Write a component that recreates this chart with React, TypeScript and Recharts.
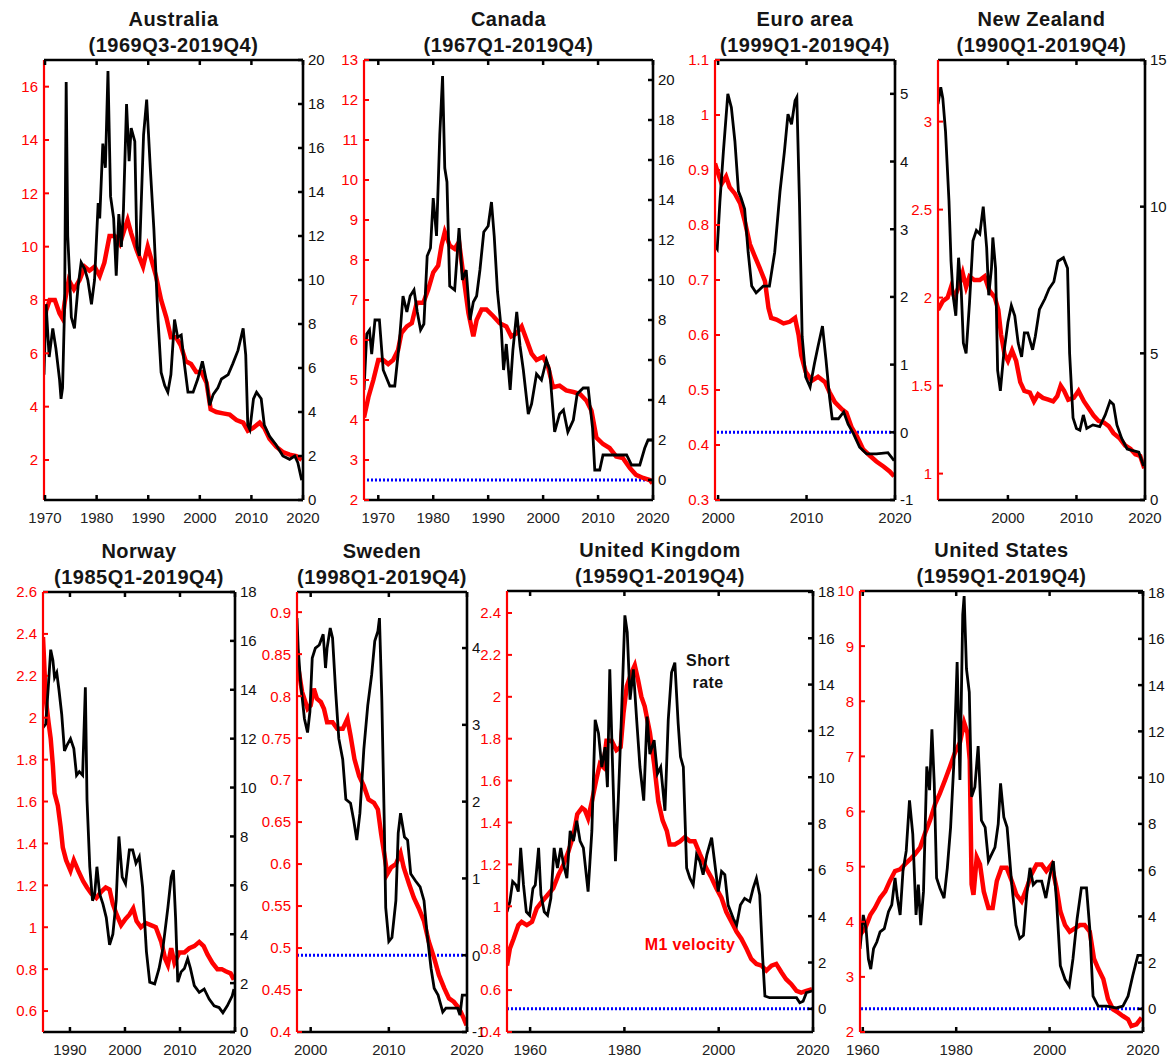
import React from 'react';
import { LineChart, Line, XAxis, YAxis, ReferenceLine } from 'recharts';

type Pt = [number, number];

// ---- Australia ----
const AUS_VEL: Pt[] = [
  [1969.8, 6.6], [1970.2, 7.6], [1970.9, 8.0], [1971.9, 8.0], [1972.8, 7.5], [1973.4, 7.3], [1973.8, 7.9],
  [1974.6, 8.75], [1975.6, 8.4], [1976.7, 8.75], [1977.7, 9.25], [1978.6, 9.1], [1979.6, 9.25], [1980.6, 8.9],
  [1981.5, 9.4], [1982.5, 10.4], [1983.5, 10.4], [1984.5, 10.1], [1985.4, 10.65], [1986.0, 11.0], [1986.7, 10.5],
  [1987.7, 9.9], [1988.3, 9.6], [1989.0, 9.25], [1989.9, 10.0], [1990.5, 9.6], [1991.5, 8.9], [1992.5, 8.0],
  [1993.5, 7.35], [1994.4, 6.6], [1995.4, 6.6], [1996.3, 6.3], [1997.3, 5.7], [1998.3, 5.6], [1999.3, 5.3],
  [2000.3, 5.3], [2001.3, 4.9], [2002.1, 3.9], [2003.2, 3.8], [2004.5, 3.75], [2005.8, 3.7], [2007.1, 3.5],
  [2008.4, 3.4], [2009.3, 3.1], [2010.3, 3.2], [2011.6, 3.4], [2012.5, 3.2], [2013.5, 2.8], [2014.8, 2.5],
  [2016.1, 2.3], [2017.4, 2.2], [2018.7, 2.15], [2019.75, 2.0],
];
const AUS_RATE: Pt[] = [
  [1969.8, 5.7], [1970.2, 8.9], [1970.8, 6.5], [1971.5, 7.8], [1972.1, 6.9], [1972.8, 5.5], [1973.1, 4.6],
  [1973.4, 5.1], [1973.8, 8.9], [1974.1, 19.0], [1974.4, 12.0], [1974.7, 10.5], [1975.1, 8.3], [1975.7, 7.8],
  [1976.4, 9.7], [1977.0, 10.8], [1977.7, 10.5], [1978.3, 10.0], [1979.0, 8.9], [1979.6, 10.0], [1980.3, 13.5],
  [1980.6, 12.8], [1981.2, 16.2], [1981.7, 15.1], [1982.2, 19.5], [1982.7, 13.8], [1983.3, 12.8], [1983.8, 10.2],
  [1984.3, 13.0], [1984.8, 11.5], [1985.2, 13.2], [1985.8, 18.0], [1986.3, 15.4], [1986.7, 16.9], [1987.4, 16.3],
  [1987.8, 11.5], [1988.3, 11.1], [1989.1, 16.6], [1989.7, 18.2], [1990.4, 15.1], [1991.1, 12.3], [1991.9, 8.2],
  [1992.5, 5.8], [1993.2, 5.2], [1993.8, 4.9], [1994.4, 5.7], [1995.1, 8.2], [1995.7, 7.4], [1996.4, 7.5],
  [1997.0, 6.2], [1997.7, 4.9], [1998.7, 4.9], [1999.6, 5.5], [2000.5, 6.3], [2001.3, 5.4], [2001.9, 4.3],
  [2002.6, 4.8], [2003.5, 5.1], [2004.2, 5.5], [2005.5, 5.7], [2006.4, 6.2], [2007.4, 6.8], [2008.4, 7.8],
  [2008.9, 6.6], [2009.3, 3.4], [2009.7, 3.2], [2010.4, 4.6], [2011.0, 4.9], [2011.9, 4.6], [2012.5, 3.4],
  [2013.5, 2.9], [2014.8, 2.5], [2016.1, 2.0], [2017.4, 1.85], [2018.4, 2.0], [2019.0, 1.7], [2019.75, 0.9],
];

// ---- Canada ----
const CAN_VEL: Pt[] = [
  [1967.4, 4.06], [1968.2, 4.57], [1969.1, 5.0], [1970.0, 5.5], [1970.9, 5.5], [1971.8, 5.4], [1972.7, 5.5],
  [1973.6, 5.75], [1974.2, 6.17], [1975.2, 6.34], [1976.1, 6.42], [1977.0, 6.93], [1978.2, 6.93], [1979.1, 7.27],
  [1980.0, 7.69], [1980.9, 7.86], [1981.5, 8.36], [1982.1, 8.7], [1983.0, 8.36], [1983.9, 8.28], [1984.7, 8.45],
  [1985.5, 7.6], [1986.4, 6.68], [1987.3, 6.09], [1987.9, 6.5], [1988.8, 6.76], [1989.7, 6.76], [1990.9, 6.6],
  [1992.1, 6.42], [1993.3, 6.34], [1994.2, 6.09], [1995.2, 6.17], [1996.1, 6.34], [1997.0, 6.0], [1997.9, 5.66],
  [1998.8, 5.5], [2000.0, 5.58], [2000.9, 5.33], [2001.8, 4.82], [2003.0, 4.86], [2004.2, 4.74], [2005.5, 4.7],
  [2006.7, 4.65], [2007.9, 4.48], [2008.8, 4.23], [2009.7, 3.56], [2010.9, 3.4], [2012.1, 3.3], [2013.3, 3.09],
  [2014.5, 3.05], [2015.8, 2.8], [2016.9, 2.63], [2018.2, 2.55], [2019.4, 2.5], [2019.9, 2.42],
];
const CAN_RATE: Pt[] = [
  [1967.4, 4.5], [1967.9, 7.3], [1968.4, 7.5], [1968.8, 6.3], [1969.4, 8.0], [1970.2, 8.0], [1970.9, 5.5],
  [1971.5, 5.1], [1972.1, 4.7], [1973.0, 4.7], [1973.8, 6.8], [1974.5, 9.2], [1975.2, 8.4], [1975.8, 9.2],
  [1976.5, 9.5], [1977.1, 8.4], [1977.7, 7.5], [1978.3, 7.8], [1978.9, 11.2], [1979.5, 11.6], [1980.0, 14.1],
  [1980.6, 12.2], [1981.2, 17.3], [1981.7, 20.2], [1982.1, 15.6], [1982.5, 14.9], [1983.0, 9.7], [1983.9, 9.5],
  [1984.7, 12.6], [1985.3, 10.0], [1986.0, 10.5], [1986.7, 8.0], [1987.3, 8.9], [1987.9, 9.2], [1988.5, 10.5],
  [1989.2, 12.4], [1990.0, 12.7], [1990.6, 13.9], [1991.1, 12.2], [1991.7, 9.4], [1992.4, 7.5], [1992.8, 5.5],
  [1993.3, 6.8], [1994.0, 4.5], [1994.5, 6.5], [1995.2, 8.4], [1995.8, 6.7], [1996.4, 5.5], [1997.3, 3.3],
  [1997.9, 3.8], [1998.8, 5.3], [1999.7, 5.0], [2000.6, 6.0], [2001.2, 5.5], [2002.1, 2.4], [2003.0, 3.3],
  [2003.7, 3.5], [2004.5, 2.4], [2005.5, 3.0], [2006.2, 4.3], [2007.3, 4.6], [2008.2, 4.6], [2009.0, 2.6],
  [2009.4, 0.5], [2010.3, 0.5], [2010.9, 1.25], [2012.1, 1.25], [2015.2, 1.25], [2016.1, 0.75], [2017.6, 0.75],
  [2018.5, 1.6], [2019.1, 2.0], [2019.9, 2.0],
];

// ---- Euro area ----
const EUR_VEL: Pt[] = [
  [1999.65, 0.912], [2000.0, 0.894], [2000.4, 0.875], [2000.9, 0.888], [2001.3, 0.869], [2001.9, 0.857],
  [2002.5, 0.839], [2003.0, 0.808], [2003.6, 0.765], [2004.2, 0.741], [2004.7, 0.722], [2005.3, 0.698],
  [2005.7, 0.649], [2006.0, 0.631], [2006.6, 0.628], [2007.4, 0.621], [2008.1, 0.624], [2008.7, 0.631],
  [2009.1, 0.6], [2009.4, 0.563], [2009.9, 0.533], [2010.6, 0.517], [2011.3, 0.524], [2012.1, 0.514],
  [2012.6, 0.496], [2013.2, 0.478], [2014.0, 0.465], [2014.5, 0.459], [2015.1, 0.432], [2015.7, 0.416],
  [2016.4, 0.392], [2017.2, 0.38], [2017.9, 0.37], [2018.7, 0.361], [2019.4, 0.352], [2019.9, 0.343],
];
const EUR_RATE: Pt[] = [
  [1999.65, 2.76], [1999.9, 2.71], [2000.2, 3.4], [2000.6, 4.15], [2001.1, 5.0], [2001.5, 4.8], [2001.9, 4.3],
  [2002.3, 3.56], [2002.6, 3.46], [2003.0, 3.3], [2003.4, 2.66], [2003.8, 2.16], [2004.3, 2.06], [2005.1, 2.16],
  [2005.8, 2.16], [2006.4, 2.66], [2007.0, 3.56], [2007.5, 4.15], [2007.9, 4.7], [2008.3, 4.55], [2008.7, 4.9],
  [2008.9, 4.95], [2009.2, 3.4], [2009.5, 1.42], [2009.9, 0.82], [2010.4, 0.67], [2010.9, 1.02], [2011.3, 1.27],
  [2011.8, 1.57], [2012.2, 1.07], [2012.6, 0.52], [2012.9, 0.2], [2013.6, 0.2], [2014.2, 0.3], [2014.7, 0.12],
  [2015.3, -0.02], [2016.0, -0.22], [2016.8, -0.32], [2017.9, -0.32], [2019.2, -0.3], [2019.9, -0.42],
];

// ---- New Zealand ----
const NZL_VEL: Pt[] = [
  [1989.8, 1.93], [1990.5, 1.98], [1991.2, 2.0], [1991.7, 2.06], [1992.2, 2.0], [1992.8, 2.06], [1993.4, 2.14],
  [1993.9, 2.06], [1994.4, 2.12], [1995.1, 2.1], [1995.9, 2.1], [1996.6, 2.12], [1997.3, 2.04], [1998.1, 2.0],
  [1998.6, 1.93], [1999.0, 1.79], [1999.5, 1.68], [2000.0, 1.64], [2000.6, 1.7], [2001.2, 1.64], [2001.8, 1.52],
  [2002.4, 1.47], [2003.2, 1.46], [2003.8, 1.41], [2004.4, 1.45], [2005.1, 1.43], [2005.9, 1.42], [2006.6, 1.41],
  [2007.2, 1.44], [2007.7, 1.5], [2008.2, 1.47], [2008.8, 1.42], [2009.6, 1.43], [2010.3, 1.47], [2011.1, 1.41],
  [2011.8, 1.37], [2012.5, 1.33], [2013.2, 1.3], [2014.0, 1.29], [2014.7, 1.27], [2015.4, 1.23], [2016.3, 1.2],
  [2017.1, 1.16], [2017.9, 1.14], [2018.6, 1.11], [2019.3, 1.1], [2019.9, 1.03],
];
const NZL_RATE: Pt[] = [
  [1989.8, 13.5], [1990.2, 14.07], [1990.5, 13.7], [1990.9, 12.56], [1991.4, 10.2], [1991.7, 8.14], [1992.0, 6.98],
  [1992.4, 6.28], [1992.8, 8.26], [1993.2, 7.1], [1993.5, 5.35], [1993.9, 5.0], [1994.4, 6.74], [1994.9, 8.84],
  [1995.4, 9.19], [1995.9, 9.07], [1996.4, 10.0], [1996.9, 8.6], [1997.2, 6.98], [1997.6, 7.9], [1997.8, 8.95],
  [1998.2, 7.9], [1998.5, 4.42], [1998.9, 3.72], [1999.4, 5.0], [2000.0, 6.05], [2000.5, 6.63], [2001.0, 6.28],
  [2001.5, 5.35], [2002.0, 4.88], [2002.4, 5.7], [2002.9, 5.7], [2003.6, 5.12], [2004.0, 5.58], [2004.6, 6.5],
  [2005.4, 6.86], [2006.0, 7.2], [2006.7, 7.44], [2007.3, 8.14], [2008.1, 8.26], [2008.7, 7.9], [2009.0, 5.0],
  [2009.5, 2.8], [2010.0, 2.44], [2010.5, 2.38], [2011.0, 2.9], [2011.5, 2.44], [2012.4, 2.56], [2013.4, 2.5],
  [2014.2, 2.9], [2014.9, 3.37], [2015.4, 3.26], [2015.9, 2.56], [2016.6, 2.1], [2017.4, 1.74], [2018.1, 1.69],
  [2019.1, 1.63], [2019.8, 1.16],
];

// ---- Norway ----
const NOR_VEL: Pt[] = [
  [1985.1, 2.385], [1985.3, 2.27], [1985.6, 2.09], [1986.1, 1.98], [1986.5, 1.9], [1986.9, 1.77], [1987.2, 1.64],
  [1987.8, 1.58], [1988.3, 1.48], [1988.7, 1.38], [1989.3, 1.32], [1990.1, 1.27], [1990.7, 1.32], [1991.5, 1.27],
  [1992.4, 1.22], [1993.1, 1.19], [1993.9, 1.16], [1994.8, 1.14], [1995.7, 1.17], [1996.5, 1.19], [1997.2, 1.18],
  [1997.8, 1.11], [1998.5, 1.06], [1999.3, 1.01], [2000.1, 1.04], [2000.8, 1.06], [2001.5, 1.09], [2002.1, 1.03],
  [2002.9, 1.0], [2003.8, 1.02], [2004.7, 1.01], [2005.6, 1.0], [2006.6, 0.93], [2007.3, 0.85], [2007.8, 0.82],
  [2008.4, 0.9], [2009.0, 0.83], [2009.9, 0.88], [2010.8, 0.88], [2011.7, 0.9], [2012.6, 0.91], [2013.5, 0.93],
  [2014.3, 0.91], [2015.0, 0.87], [2015.9, 0.83], [2016.8, 0.8], [2017.6, 0.8], [2018.3, 0.79], [2019.2, 0.78],
  [2019.8, 0.75],
];
const NOR_RATE: Pt[] = [
  [1985.1, 12.45], [1985.6, 12.6], [1986.1, 14.25], [1986.5, 15.64], [1986.9, 15.2], [1987.2, 14.5], [1987.6, 14.7],
  [1988.0, 14.0], [1988.5, 13.0], [1989.0, 11.5], [1989.5, 11.75], [1990.1, 12.0], [1990.7, 11.6], [1991.2, 10.5],
  [1991.7, 10.65], [1992.3, 10.5], [1992.8, 14.1], [1993.1, 9.5], [1993.6, 6.76], [1994.1, 5.37], [1994.5, 5.65],
  [1994.9, 6.76], [1995.4, 5.65], [1996.0, 5.23], [1996.6, 4.68], [1997.2, 3.57], [1997.8, 4.0], [1998.4, 5.37],
  [1998.9, 8.0], [1999.5, 6.34], [2000.1, 6.06], [2000.8, 7.45], [2001.4, 7.45], [2002.0, 6.9], [2002.6, 7.17],
  [2003.2, 5.93], [2003.9, 3.29], [2004.5, 2.04], [2005.4, 1.97], [2006.2, 2.6], [2006.9, 3.43], [2007.8, 5.09],
  [2008.4, 6.34], [2008.8, 6.62], [2009.2, 4.68], [2009.6, 2.04], [2010.2, 2.46], [2010.8, 2.6], [2011.4, 3.0],
  [2011.9, 2.6], [2012.6, 1.9], [2013.5, 1.62], [2014.4, 1.76], [2015.3, 1.35], [2016.2, 1.07], [2017.1, 1.0],
  [2017.8, 0.79], [2018.6, 1.07], [2019.5, 1.48], [2019.8, 1.76],
];

// ---- Sweden ----
const SWE_VEL: Pt[] = [
  [1998.25, 0.841], [1998.5, 0.829], [1998.9, 0.805], [1999.6, 0.785], [2000.0, 0.789], [2000.4, 0.809],
  [2000.8, 0.797], [2001.3, 0.793], [2001.7, 0.785], [2002.1, 0.769], [2002.8, 0.769], [2003.4, 0.761],
  [2004.1, 0.761], [2004.7, 0.773], [2005.1, 0.753], [2005.6, 0.725], [2006.2, 0.705], [2006.8, 0.693],
  [2007.4, 0.677], [2008.1, 0.673], [2008.6, 0.665], [2009.0, 0.637], [2009.4, 0.613], [2009.8, 0.588],
  [2010.3, 0.596], [2010.9, 0.6], [2011.5, 0.613], [2011.9, 0.596], [2012.6, 0.576], [2013.2, 0.56],
  [2013.8, 0.548], [2014.5, 0.532], [2015.1, 0.508], [2015.8, 0.488], [2016.4, 0.468], [2017.1, 0.452],
  [2017.7, 0.44], [2018.3, 0.436], [2019.0, 0.428], [2019.6, 0.416], [2019.95, 0.408],
];
const SWE_RATE: Pt[] = [
  [1998.25, 4.39], [1998.4, 4.0], [1998.7, 3.56], [1999.2, 3.08], [1999.6, 2.9], [1999.9, 3.17], [2000.2, 3.87],
  [2000.6, 4.0], [2001.1, 4.04], [2001.6, 4.18], [2001.9, 3.74], [2002.1, 4.0], [2002.5, 4.26], [2002.8, 4.13],
  [2003.2, 3.43], [2003.6, 2.82], [2004.1, 2.55], [2004.5, 2.03], [2005.1, 1.98], [2005.5, 1.76], [2005.9, 1.5],
  [2006.3, 1.85], [2006.8, 2.68], [2007.3, 3.25], [2007.8, 3.65], [2008.2, 4.09], [2008.6, 4.22], [2008.8, 4.39],
  [2009.1, 3.34], [2009.4, 1.81], [2009.6, 0.62], [2010.0, 0.18], [2010.4, 0.23], [2010.9, 0.71], [2011.2, 1.59],
  [2011.5, 1.85], [2012.0, 1.54], [2012.4, 1.5], [2012.8, 1.06], [2013.4, 0.97], [2014.0, 0.89], [2014.5, 0.71],
  [2014.9, 0.27], [2015.4, -0.17], [2015.8, -0.43], [2016.3, -0.52], [2016.9, -0.74], [2017.3, -0.69],
  [2017.9, -0.69], [2018.8, -0.69], [2019.1, -0.78], [2019.4, -0.52], [2019.95, -0.52],
];

// ---- United Kingdom ----
const GBR_VEL: Pt[] = [
  [1955.1, 0.717], [1955.7, 0.797], [1956.5, 0.845], [1957.5, 0.91], [1958.2, 0.926], [1959.3, 0.91],
  [1960.4, 0.926], [1961.4, 0.99], [1962.5, 1.022], [1963.7, 1.054], [1964.9, 1.086], [1966.0, 1.15],
  [1967.1, 1.2], [1968.1, 1.26], [1969.2, 1.34], [1970.0, 1.44], [1971.0, 1.47], [1971.6, 1.46], [1972.3, 1.42],
  [1973.1, 1.5], [1974.0, 1.6], [1974.8, 1.68], [1975.5, 1.665], [1976.2, 1.79], [1977.3, 1.79], [1978.3, 1.745],
  [1979.2, 1.76], [1979.8, 1.92], [1980.5, 2.05], [1981.5, 2.115], [1982.2, 2.15], [1982.9, 2.08], [1983.6, 2.0],
  [1984.3, 1.955], [1985.4, 1.83], [1986.3, 1.68], [1987.2, 1.5], [1988.1, 1.41], [1989.0, 1.36], [1989.6, 1.295],
  [1990.7, 1.295], [1991.8, 1.31], [1992.8, 1.33], [1993.9, 1.31], [1994.9, 1.31], [1996.0, 1.25], [1997.4, 1.18],
  [1998.5, 1.135], [1999.5, 1.086], [2000.6, 1.04], [2001.6, 0.974], [2002.7, 0.926], [2003.8, 0.878],
  [2004.8, 0.845], [2005.9, 0.797], [2006.9, 0.749], [2008.0, 0.725], [2009.1, 0.717], [2010.1, 0.693],
  [2011.2, 0.717], [2012.2, 0.725], [2013.3, 0.685], [2014.3, 0.652], [2015.4, 0.628], [2016.5, 0.596],
  [2017.5, 0.588], [2018.6, 0.596], [2019.8, 0.604],
];
const GBR_RATE: Pt[] = [
  [1955.1, 4.19], [1955.7, 4.63], [1956.3, 5.5], [1957.0, 5.35], [1957.5, 5.06], [1958.0, 6.95], [1958.6, 5.35],
  [1959.2, 4.19], [1959.9, 4.04], [1960.6, 5.2], [1961.1, 5.35], [1961.8, 6.95], [1962.3, 4.92], [1963.0, 4.19],
  [1963.7, 4.04], [1964.4, 4.77], [1965.1, 6.95], [1965.8, 6.08], [1966.5, 6.95], [1967.1, 6.23], [1967.8, 5.64],
  [1968.5, 7.68], [1969.2, 7.24], [1969.9, 8.12], [1970.6, 7.24], [1971.3, 6.95], [1972.3, 5.06], [1973.1, 7.68],
  [1973.8, 12.48], [1974.5, 11.9], [1975.2, 10.44], [1975.9, 11.3], [1976.4, 9.57], [1976.9, 14.66],
  [1977.5, 10.44], [1978.1, 6.37], [1978.7, 8.99], [1979.4, 12.77], [1980.1, 16.99], [1980.6, 16.26],
  [1981.2, 13.35], [1981.9, 14.66], [1982.6, 12.48], [1983.3, 10.44], [1984.1, 8.99], [1984.8, 12.62],
  [1985.4, 11.0], [1986.3, 11.6], [1987.0, 10.15], [1987.7, 10.44], [1988.6, 8.55], [1989.3, 12.48],
  [1990.0, 14.52], [1990.7, 14.95], [1991.4, 12.33], [1991.9, 10.88], [1992.5, 10.44], [1993.2, 6.08],
  [1993.9, 5.64], [1994.6, 5.35], [1995.3, 6.66], [1996.0, 6.37], [1996.7, 5.79], [1997.5, 6.66], [1998.5, 7.39],
  [1999.2, 6.23], [1999.9, 5.06], [2000.6, 5.93], [2001.3, 5.79], [2002.0, 4.48], [2003.1, 3.9], [2003.8, 3.61],
  [2004.6, 4.48], [2005.5, 4.77], [2006.6, 4.63], [2007.3, 5.2], [2008.0, 5.64], [2008.7, 4.92], [2009.3, 2.3],
  [2009.8, 0.55], [2010.8, 0.48], [2013.6, 0.48], [2016.5, 0.48], [2017.2, 0.26], [2017.9, 0.33], [2018.6, 0.7],
  [2019.8, 0.77],
];

// ---- United States ----
const USA_VEL: Pt[] = [
  [1959.4, 3.76], [1960.5, 3.88], [1961.6, 4.12], [1962.6, 4.25], [1963.7, 4.43], [1964.8, 4.55], [1965.8, 4.74],
  [1966.9, 4.92], [1968.0, 4.95], [1969.0, 5.04], [1970.1, 5.13], [1971.2, 5.23], [1972.3, 5.35], [1973.3, 5.6],
  [1974.4, 5.84], [1975.5, 6.14], [1976.5, 6.33], [1977.6, 6.57], [1978.7, 6.82], [1979.7, 7.06], [1980.8, 7.25],
  [1981.7, 7.61], [1982.4, 7.43], [1982.9, 6.94], [1983.3, 4.68], [1983.7, 4.49], [1984.4, 5.17], [1985.1, 5.04],
  [1985.9, 4.55], [1986.9, 4.25], [1987.8, 4.25], [1988.7, 4.74], [1989.7, 4.98], [1990.8, 4.98], [1991.9, 4.74],
  [1992.9, 4.49], [1994.0, 4.37], [1995.1, 4.61], [1996.1, 4.86], [1997.2, 5.04], [1998.3, 5.04], [1999.3, 4.92],
  [2000.4, 5.04], [2001.5, 4.61], [2002.3, 4.19], [2003.3, 3.94], [2004.3, 3.82], [2005.4, 3.88], [2006.5, 3.94],
  [2007.5, 3.94], [2008.6, 3.82], [2009.5, 3.33], [2010.4, 3.15], [2011.5, 2.96], [2012.5, 2.6], [2013.6, 2.41],
  [2014.7, 2.35], [2015.7, 2.29], [2016.8, 2.23], [2017.5, 2.11], [2018.6, 2.14], [2019.7, 2.26],
];
const USA_RATE: Pt[] = [
  [1959.4, 2.6], [1960.1, 4.06], [1960.7, 3.47], [1961.2, 2.16], [1961.7, 1.72], [1962.3, 2.6], [1963.0, 2.89],
  [1963.7, 3.33], [1964.6, 3.47], [1965.5, 4.2], [1966.2, 4.5], [1966.9, 5.66], [1967.4, 4.79], [1968.0, 4.06],
  [1968.6, 5.96], [1969.3, 6.83], [1970.0, 9.02], [1970.7, 7.56], [1971.4, 4.06], [1971.9, 5.37], [1972.4, 3.62],
  [1973.0, 5.08], [1973.7, 10.48], [1974.3, 9.46], [1974.8, 12.09], [1975.3, 9.75], [1975.8, 5.66], [1976.5, 5.23],
  [1977.4, 4.79], [1978.1, 6.1], [1978.8, 7.85], [1979.5, 10.63], [1980.2, 15.0], [1980.8, 9.9], [1981.4, 17.05],
  [1981.7, 17.85], [1982.2, 14.7], [1982.8, 13.7], [1983.3, 9.17], [1984.0, 9.6], [1984.7, 11.36], [1985.4, 8.15],
  [1986.2, 7.85], [1986.9, 6.39], [1987.6, 6.69], [1988.3, 6.98], [1989.0, 8.0], [1989.5, 9.75], [1990.2, 8.29],
  [1990.9, 7.85], [1991.9, 5.37], [1992.8, 3.62], [1993.6, 3.04], [1994.4, 3.18], [1995.1, 4.93], [1995.8, 6.1],
  [1996.5, 5.37], [1997.2, 5.52], [1998.3, 5.52], [1999.2, 4.79], [2000.1, 5.81], [2000.8, 6.39], [2001.5, 4.64],
  [2002.3, 1.87], [2003.3, 1.28], [2004.2, 0.99], [2005.0, 2.16], [2005.9, 3.91], [2006.8, 5.23], [2007.9, 5.23],
  [2008.6, 3.47], [2009.3, 0.55], [2010.4, 0.12], [2012.2, 0.12], [2014.3, 0.04], [2015.7, 0.12], [2016.8, 0.55],
  [2017.8, 1.43], [2018.9, 2.31], [2019.9, 2.31],
];

// ---- axis ticks ----
const X_TICKS_70 = [1970, 1980, 1990, 2000, 2010, 2020];
const X_TICKS_00 = [2000, 2010, 2020];
const X_TICKS_90 = [1990, 2000, 2010, 2020];
const X_TICKS_60 = [1960, 1980, 2000, 2020];

const AUS_VEL_TICKS = [2, 4, 6, 8, 10, 12, 14, 16];
const AUS_RATE_TICKS = [0, 2, 4, 6, 8, 10, 12, 14, 16, 18, 20];
const CAN_VEL_TICKS = [2, 3, 4, 5, 6, 7, 8, 9, 10, 11, 12, 13];
const CAN_RATE_TICKS = [0, 2, 4, 6, 8, 10, 12, 14, 16, 18, 20];
const EUR_VEL_TICKS = [0.3, 0.4, 0.5, 0.6, 0.7, 0.8, 0.9, 1, 1.1];
const EUR_RATE_TICKS = [-1, 0, 1, 2, 3, 4, 5];
const NZL_VEL_TICKS = [1, 1.5, 2, 2.5, 3];
const NZL_RATE_TICKS = [0, 5, 10, 15];
const NOR_VEL_TICKS = [0.6, 0.8, 1, 1.2, 1.4, 1.6, 1.8, 2, 2.2, 2.4, 2.6];
const NOR_RATE_TICKS = [0, 2, 4, 6, 8, 10, 12, 14, 16, 18];
const SWE_VEL_TICKS = [0.4, 0.45, 0.5, 0.55, 0.6, 0.65, 0.7, 0.75, 0.8, 0.85, 0.9];
const SWE_RATE_TICKS = [-1, 0, 1, 2, 3, 4];
const GBR_VEL_TICKS = [0.4, 0.6, 0.8, 1, 1.2, 1.4, 1.6, 1.8, 2, 2.2, 2.4];
const GBR_RATE_TICKS = [0, 2, 4, 6, 8, 10, 12, 14, 16, 18];
const USA_VEL_TICKS = [2, 3, 4, 5, 6, 7, 8, 9, 10];
const USA_RATE_TICKS = [0, 2, 4, 6, 8, 10, 12, 14, 16, 18];

interface Panel {
  name: string;
  period: string;
  left: number;
  top: number;
  width: number;
  height: number;
  xDomain: [number, number];
  xTicks: number[];
  velDomain: [number, number];
  velTicks: number[];
  rateDomain: [number, number];
  rateTicks: number[];
  velocity: Pt[];
  rate: Pt[];
  zeroLine: boolean;
}

const PANELS: Panel[] = [
  {
    name: 'Australia', period: '(1969Q3-2019Q4)', left: 44, top: 60, width: 259, height: 440,
    xDomain: [1969.8, 2020], xTicks: X_TICKS_70, velDomain: [0.5, 17], velTicks: AUS_VEL_TICKS,
    rateDomain: [0, 20], rateTicks: AUS_RATE_TICKS, velocity: AUS_VEL, rate: AUS_RATE, zeroLine: false,
  },
  {
    name: 'Canada', period: '(1967Q1-2019Q4)', left: 364, top: 60, width: 289, height: 440,
    xDomain: [1967.4, 2020], xTicks: X_TICKS_70, velDomain: [2, 13], velTicks: CAN_VEL_TICKS,
    rateDomain: [-1, 21], rateTicks: CAN_RATE_TICKS, velocity: CAN_VEL, rate: CAN_RATE, zeroLine: true,
  },
  {
    name: 'Euro area', period: '(1999Q1-2019Q4)', left: 715, top: 60, width: 180, height: 440,
    xDomain: [1999.65, 2020], xTicks: X_TICKS_00, velDomain: [0.3, 1.1], velTicks: EUR_VEL_TICKS,
    rateDomain: [-1, 5.5], rateTicks: EUR_RATE_TICKS, velocity: EUR_VEL, rate: EUR_RATE, zeroLine: true,
  },
  {
    name: 'New Zealand', period: '(1990Q1-2019Q4)', left: 938, top: 60, width: 207, height: 440,
    xDomain: [1989.8, 2020], xTicks: X_TICKS_00, velDomain: [0.85, 3.35], velTicks: NZL_VEL_TICKS,
    rateDomain: [0, 15], rateTicks: NZL_RATE_TICKS, velocity: NZL_VEL, rate: NZL_RATE, zeroLine: false,
  },
  {
    name: 'Norway', period: '(1985Q1-2019Q4)', left: 43, top: 592, width: 192, height: 440,
    xDomain: [1985.1, 2020], xTicks: X_TICKS_90, velDomain: [0.5, 2.6], velTicks: NOR_VEL_TICKS,
    rateDomain: [0, 18], rateTicks: NOR_RATE_TICKS, velocity: NOR_VEL, rate: NOR_RATE, zeroLine: false,
  },
  {
    name: 'Sweden', period: '(1998Q1-2019Q4)', left: 297, top: 592, width: 170, height: 440,
    xDomain: [1998.25, 2020], xTicks: X_TICKS_00, velDomain: [0.4, 0.924], velTicks: SWE_VEL_TICKS,
    rateDomain: [-1, 4.73], rateTicks: SWE_RATE_TICKS, velocity: SWE_VEL, rate: SWE_RATE, zeroLine: true,
  },
  {
    name: 'United Kingdom', period: '(1959Q1-2019Q4)', left: 507, top: 591, width: 306, height: 441,
    xDomain: [1955.1, 2020], xTicks: X_TICKS_60, velDomain: [0.4, 2.505], velTicks: GBR_VEL_TICKS,
    rateDomain: [-1, 18.04], rateTicks: GBR_RATE_TICKS, velocity: GBR_VEL, rate: GBR_RATE, zeroLine: true,
  },
  {
    name: 'United States', period: '(1959Q1-2019Q4)', left: 860, top: 591, width: 283, height: 441,
    xDomain: [1959.4, 2020], xTicks: X_TICKS_60, velDomain: [2, 10], velTicks: USA_VEL_TICKS,
    rateDomain: [-1, 18.07], rateTicks: USA_RATE_TICKS, velocity: USA_VEL, rate: USA_RATE, zeroLine: true,
  },
];

const FONT = '"Liberation Sans", Arial, Helvetica, sans-serif';
const RED = '#ff0000';
const BLACK = '#000000';
const AXIS_W = 50;
const AXIS_H = 40;
const TOP_AXIS_H = 2;
const PAD_TOP = 8;
const TICK_FONT = 15;
const TICK_LEN = 5;

// Gaps between an axis line and the tick label (Recharts passes the label anchor as x/y).
const GAP_LEFT = 6;
const GAP_RIGHT = 5;
const GAP_BOTTOM = 12;

const toRows = (pts: Pt[]) => pts.map(([t, v]) => ({ t, v }));

// Inward-pointing tick marks, drawn together with their labels.
const leftTick = (props: any) => {
  const { x, y, payload } = props;
  const ax = x + GAP_LEFT;
  return (
    <g>
      <line x1={ax} y1={y} x2={ax + TICK_LEN} y2={y} stroke={RED} strokeWidth={2} />
      <text x={x} y={y} dy="0.36em" textAnchor="end" fill={RED} fontSize={TICK_FONT} fontFamily={FONT}>
        {payload.value}
      </text>
    </g>
  );
};

const rightTick = (props: any) => {
  const { x, y, payload } = props;
  const ax = x - GAP_RIGHT;
  return (
    <g>
      <line x1={ax} y1={y} x2={ax - TICK_LEN} y2={y} stroke={BLACK} strokeWidth={2.5} />
      <text x={x} y={y} dy="0.36em" textAnchor="start" fill="#111" fontSize={TICK_FONT} fontFamily={FONT}>
        {payload.value}
      </text>
    </g>
  );
};

const bottomTick = (props: any) => {
  const { x, y, payload } = props;
  const ay = y - GAP_BOTTOM;
  return (
    <g>
      <line x1={x} y1={ay} x2={x} y2={ay - TICK_LEN} stroke={BLACK} strokeWidth={2.5} />
      <text x={x} y={y} dy="0.72em" textAnchor="middle" fill="#222" fontSize={TICK_FONT} fontFamily={FONT}>
        {payload.value}
      </text>
    </g>
  );
};

const topTick = (props: any) => {
  const { x, y } = props;
  return <line x1={x} y1={y} x2={x} y2={y + TICK_LEN} stroke={BLACK} strokeWidth={2.5} />;
};

function PanelChart({ p }: { p: Panel }) {
  const vel = toRows(p.velocity);
  const rate = toRows(p.rate);
  const frame = { stroke: BLACK, strokeWidth: 2.6 };
  return (
    <div style={{ position: 'absolute', left: p.left - AXIS_W, top: p.top - PAD_TOP - TOP_AXIS_H }}>
      <LineChart
        width={p.width + 2 * AXIS_W}
        height={p.height + PAD_TOP + TOP_AXIS_H + AXIS_H}
        margin={{ top: PAD_TOP, right: 0, bottom: 0, left: 0 }}
      >
        <XAxis
          xAxisId="bottom"
          type="number"
          dataKey="t"
          orientation="bottom"
          domain={p.xDomain}
          ticks={p.xTicks}
          allowDataOverflow
          interval={0}
          height={AXIS_H}
          axisLine={frame}
          tickLine={false}
          tickSize={0}
          tickMargin={GAP_BOTTOM}
          tick={bottomTick}
        />
        <XAxis
          xAxisId="top"
          type="number"
          dataKey="t"
          orientation="top"
          domain={p.xDomain}
          ticks={p.xTicks}
          allowDataOverflow
          interval={0}
          height={TOP_AXIS_H}
          axisLine={frame}
          tickLine={false}
          tickSize={0}
          tickMargin={0}
          tick={topTick}
        />
        <YAxis
          yAxisId="right"
          orientation="right"
          type="number"
          width={AXIS_W}
          domain={p.rateDomain}
          ticks={p.rateTicks}
          allowDataOverflow
          interval={0}
          axisLine={frame}
          tickLine={false}
          tickSize={0}
          tickMargin={GAP_RIGHT}
          tick={rightTick}
        />
        <YAxis
          yAxisId="left"
          orientation="left"
          type="number"
          width={AXIS_W}
          domain={p.velDomain}
          ticks={p.velTicks}
          allowDataOverflow
          interval={0}
          axisLine={{ stroke: RED, strokeWidth: 2.2 }}
          tickLine={false}
          tickSize={0}
          tickMargin={GAP_LEFT}
          tick={leftTick}
        />
        {p.zeroLine && (
          <ReferenceLine
            xAxisId="bottom"
            yAxisId="right"
            y={0}
            stroke="#0000ff"
            strokeWidth={3}
            strokeDasharray="2 2"
          />
        )}
        <Line
          data={vel}
          xAxisId="top"
          yAxisId="left"
          dataKey="v"
          stroke="none"
          strokeWidth={0}
          dot={false}
          activeDot={false}
          legendType="none"
          isAnimationActive={false}
        />
        <Line
          data={vel}
          xAxisId="bottom"
          yAxisId="left"
          dataKey="v"
          type="linear"
          stroke={RED}
          strokeWidth={4.5}
          dot={false}
          activeDot={false}
          isAnimationActive={false}
        />
        <Line
          data={rate}
          xAxisId="bottom"
          yAxisId="right"
          dataKey="v"
          type="linear"
          stroke={BLACK}
          strokeWidth={2.8}
          dot={false}
          activeDot={false}
          isAnimationActive={false}
        />
      </LineChart>
    </div>
  );
}

function Title({ p }: { p: Panel }) {
  const cx = p.left + p.width / 2;
  return (
    <div
      style={{
        position: 'absolute',
        left: cx - 150,
        top: p.top - 54,
        width: 300,
        textAlign: 'center',
        fontFamily: FONT,
        fontWeight: 'bold',
        fontSize: 20,
        lineHeight: '26px',
        letterSpacing: 0.5,
        color: '#151515',
      }}
    >
      <div>{p.name}</div>
      <div>{p.period}</div>
    </div>
  );
}

const noteStyle: React.CSSProperties = {
  position: 'absolute',
  width: 160,
  textAlign: 'center',
  fontFamily: FONT,
  fontWeight: 'bold',
  fontSize: 16,
  lineHeight: '22px',
  letterSpacing: 0.4,
};

export default function App() {
  return (
    <div
      style={{
        position: 'absolute',
        left: 0,
        top: 0,
        width: 1174,
        height: 1060,
        background: '#ffffff',
        overflow: 'hidden',
        fontFamily: FONT,
      }}
    >
      {PANELS.map((p) => (
        <PanelChart key={p.name} p={p} />
      ))}
      {PANELS.map((p) => (
        <Title key={`t-${p.name}`} p={p} />
      ))}
      <div style={{ ...noteStyle, left: 708 - 80, top: 650, color: '#111' }}>
        Short
        <br />
        rate
      </div>
      <div style={{ ...noteStyle, left: 690 - 80, top: 934, color: RED }}>M1 velocity</div>
    </div>
  );
}
